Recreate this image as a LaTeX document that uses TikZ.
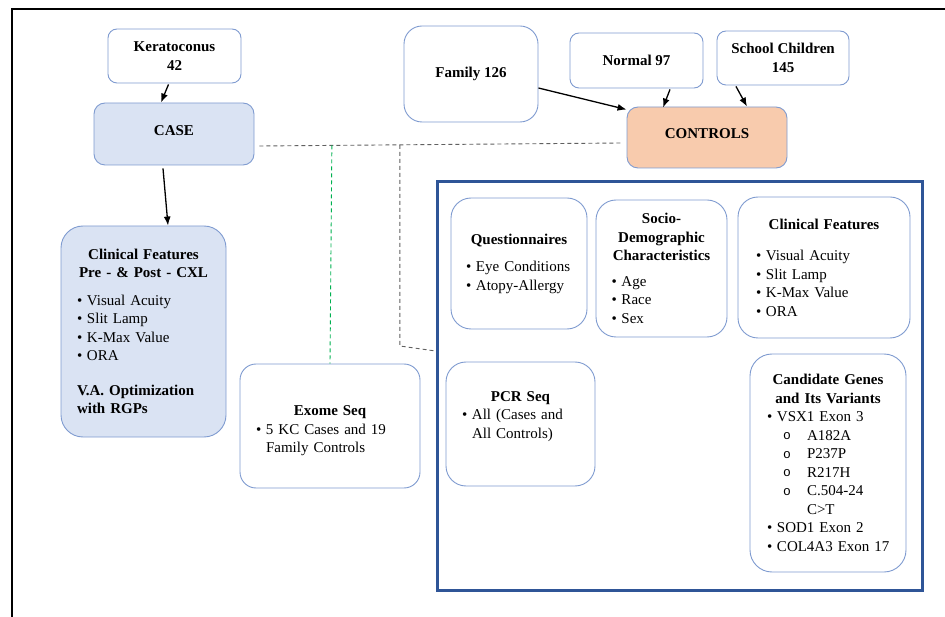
\documentclass[tikz,border=0pt]{standalone}
\usepackage{fontspec}
\setmainfont{Liberation Serif}
\newfontfamily\monofnt{Liberation Mono}
\usepackage{xcolor}
\usetikzlibrary{shapes,arrows,arrows.meta,positioning,calc}

\definecolor{boxline}{HTML}{7F9BD0}
\definecolor{casefill}{HTML}{DAE3F3}
\definecolor{ctrlfill}{HTML}{F8CBAD}
\definecolor{studyline}{HTML}{2F5597}
\definecolor{dashgray}{HTML}{606060}
\definecolor{dashgreen}{HTML}{00B050}

\newcommand{\bul}{\makebox[10pt][l]{\textbullet}}
\newcommand{\subit}[1]{\hspace*{16pt}\makebox[24pt][l]{\raisebox{0.5pt}{\monofnt\fontsize{13}{18.5}\selectfont o}}#1}

\begin{document}
\begin{tikzpicture}[x=1pt,y=-1pt,
  box/.style={rectangle, rounded corners=9pt, draw=boxline, line width=0.9pt, fill=white,
    font=\fontsize{15}{18.5}\selectfont, align=left, inner sep=0pt},
  title/.style={font=\fontsize{15}{18.5}\selectfont\bfseries, align=center},
  arr/.style={-{Latex[length=9pt,width=7pt]}, line width=1.3pt},
  dashlink/.style={dashgray, line width=0.9pt, dash pattern=on 4pt off 3pt}]
\useasboundingbox (0,0) rectangle (945,617);

% outer frame (only top and left visible)
\draw[line width=2.2pt] (945,9) -- (12,9) -- (12,617);

% sources
\node[box, title, minimum width=133pt, minimum height=54pt] (kera) at (174.5,56) {Keratoconus\\42};
\node[box, title, minimum width=134pt, minimum height=96pt, rounded corners=18pt] (family) at (471,74) {Family 126};
\node[box, title, minimum width=133pt, minimum height=55pt] (normal) at (636.5,60.5) {Normal 97};
\node[box, title, minimum width=132pt, minimum height=54pt] (school) at (783,58) {School Children\\145};

% groups
\node[box, title, fill=casefill, text depth=7pt, minimum width=160pt, minimum height=62pt, rounded corners=11pt] (casebox) at (174,134) {CASE};
\node[box, title, fill=ctrlfill, text depth=7pt, minimum width=160pt, minimum height=61pt, rounded corners=11pt] (controls) at (707,137.5) {CONTROLS};

\draw[arr] ($(kera.south)+(-6,1)$) -- ($(casebox.north)+(-13,0)$);
\draw[arr] ($(family.east)+(0,14)$) -- ($(controls.north west)+(0,3)$);
\draw[arr] ($(normal.south)+(33.5,1)$) -- ($(controls.north)+(-44,1)$);
\draw[arr] ($(school.south)+(-47,1)$) -- ($(controls.north)+(40,0)$);

% case features
\node[box, fill=casefill, text width=133pt, minimum width=165pt, minimum height=211pt, rounded corners=22pt] (clinL) at (143.5,331.5) {%
  {\centering\bfseries Clinical Features\\Pre - \& Post - CXL\par}
  \vspace{9pt}
  \bul Visual Acuity\par
  \bul Slit Lamp\par
  \bul K-Max Value\par
  \bul ORA\par
  \vspace{16pt}
  {\bfseries V.A. Optimization\\with RGPs\par}};
\draw[arr] ($(casebox.south)+(-11,3)$) -- ($(clinL.north)+(24.5,0)$);

% exome
\node[box, text width=148pt, minimum width=180pt, minimum height=124pt, rounded corners=16pt] (exome) at (330,426) {%
  {\centering\bfseries\rule{0pt}{20pt}Exome Seq\par}
  \bul 5 KC Cases and 19\\
  \hspace*{10pt}Family Controls};

% study frame
\node[rectangle, draw=studyline, line width=3pt, minimum width=485pt, minimum height=408pt] (study) at (679.5,386) {};

\node[box, text width=106pt, minimum width=136pt, minimum height=131pt, rounded corners=20pt] (quest) at (519,263.5) {%
  {\centering\bfseries Questionnaires\par}
  \vspace{9pt}
  \bul Eye Conditions\par
  \bul Atopy-Allergy};
\node[box, text width=100pt, minimum width=131pt, minimum height=137pt, rounded corners=20pt] (socio) at (661.5,268.5) {%
  {\centering\bfseries Socio-\\Demographic\\Characteristics\par}
  \vspace{7pt}
  \bul Age\par
  \bul Race\par
  \bul Sex};
\node[box, text width=136pt, minimum width=172pt, minimum height=141pt, rounded corners=20pt] (clinR) at (824,267.5) {%
  {\centering\bfseries Clinical Features\par}
  \vspace{13pt}
  \bul Visual Acuity\par
  \bul Slit Lamp\par
  \bul K-Max Value\par
  \bul ORA\par
  \vspace{4pt}};
\node[box, text width=117pt, minimum width=149pt, minimum height=124pt, rounded corners=20pt] (pcr) at (520.5,424) {%
  {\centering\bfseries PCR Seq\par}
  \bul All (Cases and\\
  \hspace*{10pt}All Controls)\par
  \mbox{}};
\node[box, text width=122pt, minimum width=156pt, minimum height=218pt, rounded corners=22pt] (cand) at (828,463) {%
  {\centering\bfseries Candidate Genes\\and Its Variants\par}
  \bul VSX1 Exon 3\par
  \subit{A182A}\par
  \subit{P237P}\par
  \subit{R217H}\par
  \subit{C.504-24}\par
  \hspace*{40pt}C>T\par
  \bul SOD1 Exon 2\par
  \bul \mbox{COL4A3 Exon 17}};

% dashed links
\coordinate (hl1) at ($(casebox.east)+(5,12)$);
\coordinate (hl2) at ($(controls.west)+(-5,5.5)$);
\draw[dashlink] (hl1) -- (hl2);
\draw[dashgreen, line width=0.9pt, dash pattern=on 4pt off 3pt] ($(hl1)!0.2!(hl2)$) -- (exome.north);
\coordinate (gtop) at ($(hl1)!0.388!(hl2)$);
\draw[dashlink] (gtop) -- (gtop |- 0,346) -- ($(study.west)+(0,-35)$);
\end{tikzpicture}
\end{document}
